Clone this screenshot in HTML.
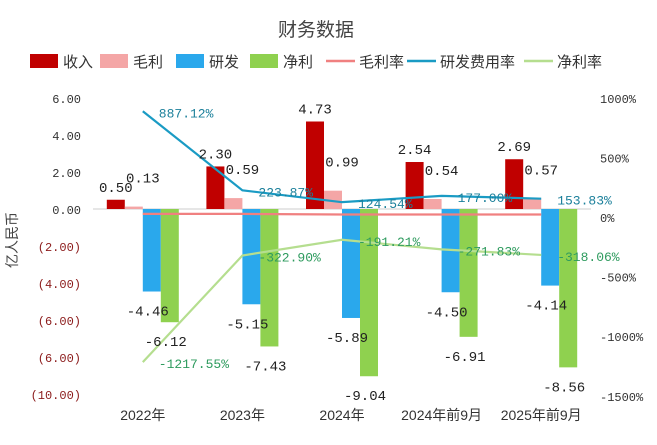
<!DOCTYPE html>
<html><head><meta charset="utf-8"><style>
body{margin:0;background:#fff;}
svg text{font-family:"Liberation Mono","Noto Sans CJK SC",monospace;}
.cjk{font-family:"Liberation Sans","Noto Sans CJK SC",sans-serif !important;}
</style></head><body>
<svg id="c" width="657" height="440" xmlns="http://www.w3.org/2000/svg">
<text x="316" y="36" text-anchor="middle" font-size="19" fill="#444" class="cjk">财务数据</text>
<g id="legend"></g>
<g id="axes"></g>
<g id="bars"></g>
<g id="lines"></g>
<g id="labels"></g>
<text x="0" y="0" transform="translate(17,240) rotate(-90)" text-anchor="middle" font-size="14" fill="#444" class="cjk">亿人民币</text>
</svg>
<script>
const categories=["2022年","2023年","2024年","2024年前9月","2025年前9月"];
const revenue=[0.50,2.30,4.73,2.54,2.69];
const gross=[0.13,0.59,0.99,0.54,0.57];
const rnd=[-4.46,-5.15,-5.89,-4.50,-4.14];
const net=[-6.12,-7.43,-9.04,-6.91,-8.56];
const grossRate=[26,26,21,21,21];
const rndRate=[887.12,223.87,124.54,177.00,153.83];
const netRate=[-1217.55,-322.90,-191.21,-271.83,-318.06];
const leftTicks=[6,4,2,0,-2,-4,-6,-8,-10];
const leftTickLabels=["6.00","4.00","2.00","0.00","(2.00)","(4.00)","(6.00)","(6.00)","(10.00)"];
const rightTicks=[1000,500,0,-500,-1000,-1500];

const NS="http://www.w3.org/2000/svg";
const x0=93,bandW=99.6,barW=18;
const yL=v=>209-v*18.5;
const yR=v=>217-v*0.1192;
const cx=i=>x0+bandW*(i+0.5);
function mk(parent,tag,attrs,text){const e=document.createElementNS(NS,tag);for(const k in attrs)e.setAttribute(k,attrs[k]);if(text!==undefined)e.textContent=text;document.getElementById(parent).appendChild(e);return e;}

leftTicks.forEach((t,i)=>{const e=mk('axes','text',{x:81,y:yL(t)+5,'text-anchor':'end','font-size':12,fill:t<0?'#8b1a1a':'#333'},leftTickLabels[i]);

});
rightTicks.forEach(t=>{const e=mk('axes','text',{x:600,y:yR(t)+5,'font-size':12,fill:'#333'},t+'%');

});
const zl=mk('axes','line',{x1:x0,x2:591,y1:yL(0),y2:yL(0),stroke:'#ccc','stroke-width':1});


categories.forEach((c,i)=>{const e=mk('axes','text',{x:cx(i),y:420,'text-anchor':'middle','font-size':14,fill:'#333',class:'cjk'},c);

});

const series=[[revenue,'#c00000','revenue'],[gross,'#f4a6a6','gross-profit'],[rnd,'#2aa8ec','rnd'],[net,'#8fd14f','net-profit']];
series.forEach(([arr,col,nm],s)=>{arr.forEach((v,i)=>{const x=cx(i)-2*barW+s*barW;const y=Math.min(yL(v),yL(0));const h=Math.abs(yL(v)-yL(0));
const r=mk('bars','rect',{x:x,y:y,width:barW,height:h,fill:col});


let lx=x+barW/2,ly;
if(v>=0){ly=yL(v)-8; if(s===1){lx=x+barW;ly=yL(v)-24;}}
else{ly=yL(v)+24; lx=x+barW/2-4;}
const t=mk('labels','text',{x:lx,y:ly,'text-anchor':'middle','font-size':14,fill:'#222'},v.toFixed(2));

});});

function line(arr,col,nm,lblCol,dy){const pts=arr.map((v,i)=>cx(i)+','+yR(v)).join(' ');
const p=mk('lines','polyline',{points:pts,fill:'none',stroke:col,'stroke-width':2.2});


if(lblCol)arr.forEach((v,i)=>{const t=mk('labels','text',{x:cx(i)+16,y:yR(v)+dy,'font-size':13,fill:lblCol},v.toFixed(2)+'%');

});}
line(grossRate,'#f08080','gross-margin',null,0);
line(rndRate,'#1a9bc4','rnd-rate','#1a7f9a',6);
line(netRate,'#b5de8f','net-margin','#2e9b5e',6);

const leg=[['rect','#c00000','收入',30],['rect','#f4a6a6','毛利',100],['rect','#2aa8ec','研发',176],['rect','#8fd14f','净利',250],['line','#f08080','毛利率',326],['line','#1a9bc4','研发费用率',407],['line','#b5de8f','净利率',524]];
leg.forEach(([k,col,txt,x])=>{let m;
if(k==='rect')m=mk('legend','rect',{x:x,y:54,width:28,height:14,fill:col});
else m=mk('legend','line',{x1:x,x2:x+29,y1:61,y2:61,stroke:col,'stroke-width':2.5});


const t=mk('legend','text',{x:x+33,y:67,'font-size':15,fill:'#333',class:'cjk'},txt);

});
</script>
</body></html>
